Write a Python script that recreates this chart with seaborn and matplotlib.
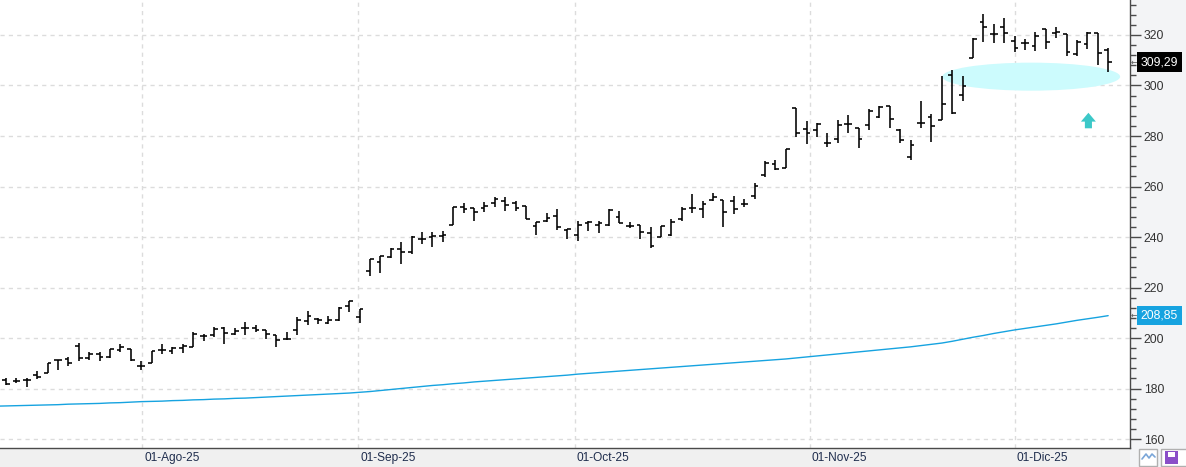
import matplotlib
matplotlib.use('Agg')
import matplotlib.pyplot as plt
import matplotlib.patches as mpatches
import matplotlib.transforms as mtransforms
import numpy as np
import pandas as pd
import seaborn as sns

# daily OHLC bars (mid Jul 2025 -> mid Dec 2025)
opens = [183.3, 183.0, 183.3, 185.3, 186.2, 191.3, 191.7, 196.7, 192.1, 193.7,
         192.4, 195.4, 195.7, 188.8, 190.1, 195.4, 195.0, 196.0, 196.4, 200.9,
         201.1, 204.0, 201.6, 204.0, 204.0, 203.0, 201.1, 199.6, 203.3, 206.7,
         207.6, 206.0, 207.1, 212.7, 208.4, 226.4, 230.0, 232.0, 235.2, 233.9,
         239.2, 239.9, 240.5, 244.9, 252.0, 251.3, 251.6, 253.3, 254.3, 253.3,
         252.3, 244.3, 246.5, 248.3, 242.6, 240.9, 245.5, 244.9, 244.9, 247.9,
         244.5, 244.6, 241.6, 240.0, 240.9, 247.1, 251.4, 251.0, 254.7, 254.7,
         254.1, 253.2, 256.3, 264.4, 269.1, 267.5, 291.1, 282.7, 282.4, 277.1,
         278.7, 284.7, 283.1, 284.4, 287.7, 292.0, 282.4, 271.5, 285.3, 287.5,
         286.5, 304.3, 296.4, 310.8, 325.0, 320.3, 323.0, 317.8, 317.0, 315.7,
         322.2, 320.9, 320.3, 312.5, 316.5, 320.7, 314.1]
highs = [184.2, 184.2, 184.0, 186.8, 190.1, 191.4, 192.5, 198.0, 194.3, 194.3,
         195.7, 197.8, 195.7, 190.8, 195.0, 197.8, 196.4, 197.6, 202.2, 201.7,
         204.4, 204.4, 204.0, 206.5, 205.1, 203.3, 201.1, 202.3, 208.4, 210.5,
         208.0, 208.9, 212.4, 214.8, 211.3, 231.3, 232.3, 235.6, 238.0, 240.3,
         241.9, 241.9, 242.3, 252.0, 253.3, 251.6, 254.0, 256.0, 256.0, 254.3,
         252.3, 245.9, 249.6, 251.2, 243.2, 246.2, 246.2, 246.2, 251.0, 250.4,
         245.9, 244.6, 244.0, 244.2, 247.1, 251.7, 257.1, 254.3, 257.4, 254.7,
         256.3, 255.0, 261.3, 270.0, 270.4, 274.8, 291.1, 286.0, 285.3, 281.1,
         286.4, 288.4, 283.1, 290.7, 291.7, 292.0, 282.7, 278.4, 294.0, 288.7,
         303.6, 306.0, 303.9, 318.7, 328.5, 324.2, 326.6, 319.6, 318.3, 321.3,
         322.2, 323.0, 320.4, 318.0, 321.3, 320.9, 314.8]
lows = [181.3, 182.0, 180.5, 183.8, 186.2, 187.2, 188.8, 190.8, 191.2, 190.8,
        192.1, 194.3, 191.0, 187.5, 190.1, 193.7, 193.8, 194.0, 196.4, 198.9,
        200.4, 197.6, 201.0, 201.3, 202.3, 199.7, 196.3, 199.3, 201.1, 205.3,
        205.6, 205.6, 206.7, 210.4, 206.0, 224.7, 225.9, 231.6, 229.2, 233.3,
        237.3, 235.9, 237.9, 244.9, 249.6, 246.3, 250.0, 252.0, 250.3, 250.3,
        247.2, 240.7, 245.9, 242.9, 239.2, 238.6, 242.5, 241.6, 244.5, 245.5,
        243.6, 239.2, 235.7, 240.0, 240.5, 246.2, 249.7, 247.5, 254.1, 243.9,
        249.1, 251.8, 255.0, 263.7, 266.4, 267.5, 279.7, 276.7, 279.5, 275.7,
        277.1, 281.1, 275.1, 282.4, 287.1, 283.3, 277.1, 270.4, 283.3, 277.7,
        286.5, 288.7, 293.8, 310.8, 317.4, 316.7, 316.7, 313.4, 314.1, 313.8,
        314.4, 319.0, 311.5, 311.7, 314.4, 308.2, 305.2]
closes = [181.8, 183.0, 183.5, 184.6, 190.1, 191.4, 190.1, 192.1, 193.7, 192.4,
          195.7, 196.4, 191.4, 189.1, 195.0, 195.4, 196.0, 196.7, 201.6, 200.9,
          203.6, 202.0, 202.9, 204.0, 203.3, 201.6, 199.3, 199.6, 207.3, 208.9,
          207.3, 207.1, 212.0, 214.7, 211.3, 231.1, 232.3, 235.2, 233.9, 240.0,
          239.2, 240.3, 240.9, 251.9, 251.2, 249.9, 252.3, 254.9, 252.5, 251.6,
          247.2, 245.9, 247.6, 244.0, 243.2, 244.9, 245.8, 245.5, 250.8, 245.5,
          244.5, 241.8, 236.6, 244.2, 245.8, 251.0, 251.4, 253.0, 256.0, 250.1,
          251.0, 253.2, 260.3, 269.3, 267.1, 274.7, 281.1, 281.1, 284.8, 277.3,
          284.4, 284.7, 278.7, 290.0, 291.3, 286.7, 278.4, 276.4, 285.3, 284.0,
          292.8, 289.2, 299.9, 318.4, 323.3, 320.3, 320.6, 314.8, 317.0, 319.6,
          317.4, 321.3, 313.4, 317.4, 320.7, 312.8, 309.29]

# moving average, first value belongs to the bar before the first visible one
ma_values = [173.0, 173.1, 173.2, 173.3, 173.4, 173.5, 173.6, 173.8, 173.9, 174.0,
             174.1, 174.3, 174.4, 174.6, 174.8, 174.9, 175.0, 175.2, 175.3, 175.5,
             175.6, 175.8, 175.9, 176.1, 176.2, 176.4, 176.6, 176.8, 177.0, 177.2,
             177.4, 177.6, 177.8, 178.0, 178.2, 178.5, 178.8, 179.2, 179.6, 180.0,
             180.4, 180.8, 181.2, 181.5, 181.9, 182.2, 182.6, 182.9, 183.2, 183.5,
             183.8, 184.1, 184.4, 184.7, 185.0, 185.3, 185.7, 186.0, 186.3, 186.6,
             186.9, 187.2, 187.5, 187.8, 188.1, 188.4, 188.7, 189.0, 189.3, 189.6,
             189.9, 190.2, 190.5, 190.8, 191.1, 191.4, 191.7, 192.1, 192.5, 192.9,
             193.3, 193.7, 194.1, 194.5, 194.9, 195.3, 195.7, 196.1, 196.5, 197.0,
             197.5, 198.0, 198.7, 199.5, 200.3, 201.0, 201.8, 202.5, 203.2, 203.8,
             204.4, 205.0, 205.6, 206.3, 207.0, 207.6, 208.2, 208.85]

month_pos = [13.1, 33.85, 54.7, 77.3, 97.0]
month_labels = ['01-Ago-25', '01-Sep-25', '01-Oct-25', '01-Nov-25', '01-Dic-25']
last_close_label = '309,29'
last_ma_label = '208,85'

sns.set_style('white')
plt.rcParams['font.family'] = ['Liberation Sans', 'DejaVu Sans']

W, H = 1186, 467
fig = plt.figure(figsize=(W / 100, H / 100), dpi=100, facecolor='#f3f4f6')
ax = fig.add_axes([0, 19 / H, 1130 / W, 448 / H])
ax.set_facecolor('white')
fig.patches.append(mpatches.Rectangle((0, 0), 1130 / W, 19 / H, transform=fig.transFigure,
                                      fc='#f0f0f0', ec='none', zorder=-5))

x = np.arange(len(opens))

# highlight zone behind the bars
ax.add_patch(mpatches.Ellipse((98.6, 303.5), 17.1, 11.1, fc='#ccfbfd', ec='none', zorder=1))

# bars
bar_lw = 1.15
ax.vlines(x, lows, highs, color='black', lw=bar_lw, zorder=3)
ax.hlines(opens, x - 0.36, x, color='black', lw=bar_lw, zorder=3)
ax.hlines(closes, x, x + 0.36, color='black', lw=bar_lw, zorder=3)

# moving average
df_ma = pd.DataFrame({'idx': np.arange(-1, len(opens)), 'ma': ma_values})
sns.lineplot(data=df_ma, x='idx', y='ma', color='#16a3e0', lw=1.0, ax=ax, zorder=2)

# up arrow
ax.add_patch(mpatches.Polygon([(104.1, 289.2), (103.38, 285.7), (103.76, 285.7), (103.76, 283.05),
                               (104.44, 283.05), (104.44, 285.7), (104.82, 285.7)],
                              closed=True, fc='#3cc8c8', ec='none', zorder=4))

ax.set_xlim(-0.58, 108.1)
ax.set_ylim(156.44, 333.86)
ax.set_xlabel('')
ax.set_ylabel('')

for side in ['left', 'top']:
    ax.spines[side].set_visible(False)
for side in ['bottom', 'right']:
    ax.spines[side].set_color('#4a4a4a')
    ax.spines[side].set_linewidth(1)

ax.yaxis.tick_right()
ax.set_yticks(range(160, 321, 20))
ax.set_yticks(np.arange(164, 334, 4), minor=True)
ax.tick_params(axis='y', which='major', length=8, width=1, color='#4a4a4a',
               labelsize=8.8, labelcolor='#333333', pad=2)
ax.tick_params(axis='y', which='minor', length=4, width=1, color='#4a4a4a')

ax.set_xticks(month_pos)
ax.set_xticklabels([])
ax.tick_params(axis='x', which='major', length=9, width=1, color='#4a4a4a')
blend_x = mtransforms.blended_transform_factory(ax.transData, ax.transAxes)
for p, lab in zip(month_pos, month_labels):
    ax.text(p + 0.2, -0.009, lab, transform=blend_x, ha='left', va='top',
            fontsize=8.6, color='#1f2d4d', clip_on=False)

ax.grid(True, which='major', ls=(0, (3, 3)), color='#dcdcdc', lw=1)
ax.set_axisbelow(True)

# last value boxes on the price axis
blend_y = mtransforms.blended_transform_factory(ax.transAxes, ax.transData)
for val, lab, bg in [(closes[-1], last_close_label, 'black'), (ma_values[-1], last_ma_label, '#16a3e0')]:
    ax.text(1.0095, val, lab, transform=blend_y, ha='left', va='center', color='white',
            fontsize=8.8, clip_on=False, zorder=6,
            bbox=dict(boxstyle='square,pad=0.3', fc=bg, ec='none'))
    ax.text(1.0004, val, '\u2190', transform=blend_y, ha='left', va='center', color='#555555',
            fontsize=5.5, family='DejaVu Sans', clip_on=False, zorder=7)

# little toolbar icons bottom right
fig.patches.append(mpatches.Rectangle((1139 / W, 1 / H), 18 / W, 17 / H, transform=fig.transFigure,
                                      fc='white', ec='#b0b0b0', lw=1))
fig.lines.append(plt.Line2D([1142 / W, 1146 / W, 1149 / W, 1152 / W, 1155 / W],
                            [8 / H, 13 / H, 9 / H, 13 / H, 10 / H],
                            transform=fig.transFigure, color='#7aa6d8', lw=1.2))
fig.patches.append(mpatches.Rectangle((1161 / W, 1 / H), 30 / W, 17 / H, transform=fig.transFigure,
                                      fc='white', ec='#b0b0b0', lw=1))
fig.patches.append(mpatches.Rectangle((1165 / W, 3 / H), 13 / W, 13 / H, transform=fig.transFigure,
                                      fc='#8a4fc8', ec='none'))
fig.patches.append(mpatches.Rectangle((1168 / W, 10 / H), 7 / W, 5 / H, transform=fig.transFigure,
                                      fc='white', ec='none'))

fig.savefig('out.png', dpi=100, facecolor=fig.get_facecolor())
